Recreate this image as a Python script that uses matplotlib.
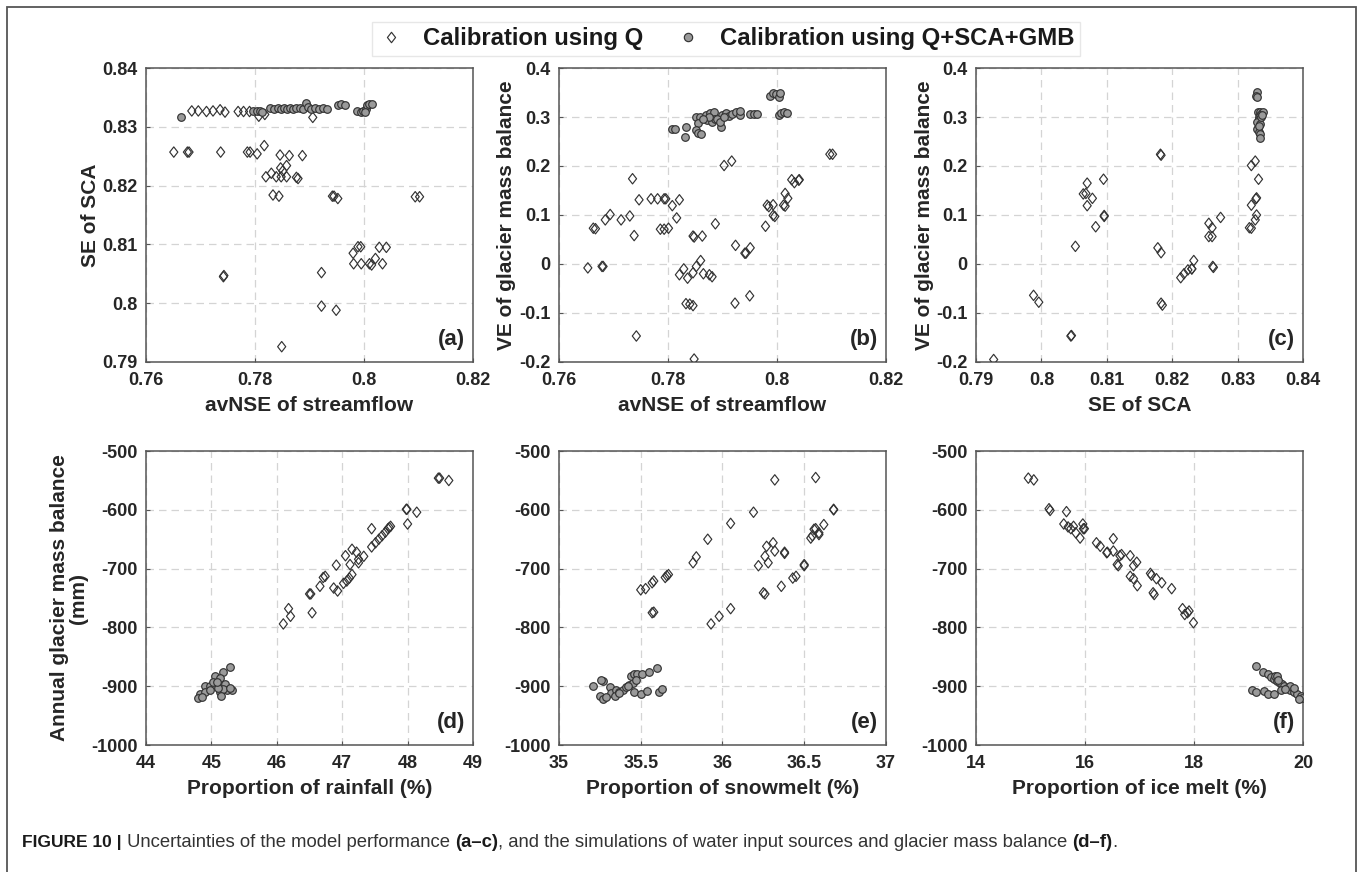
import matplotlib
matplotlib.use('Agg')
import matplotlib.pyplot as plt
from matplotlib.path import Path
from matplotlib.lines import Line2D
from matplotlib.patches import Rectangle

plt.rcParams['font.family'] = ['Liberation Sans', 'DejaVu Sans']

# ---- data ----
# (a) avNSE of streamflow vs SE of SCA
a_q_x = [0.7684, 0.7696, 0.7711, 0.7723, 0.7736, 0.7745, 0.7769, 0.7779, 0.7790, 0.7807, 0.7818, 0.7906,
         0.7651, 0.7676, 0.7679, 0.7737, 0.7786, 0.7791, 0.7804, 0.7817, 0.7846, 0.7863, 0.7887,
         0.7820, 0.7830, 0.7839, 0.7848, 0.7858, 0.7847, 0.7858, 0.7851, 0.7876, 0.7879, 0.7833, 0.7844,
         0.7942, 0.7945, 0.7952, 0.8094, 0.8102, 0.7742, 0.7743, 0.7980, 0.7989, 0.7994, 0.7981, 0.7995,
         0.8010, 0.8014, 0.8021, 0.8028, 0.8041, 0.8034, 0.7922, 0.7922, 0.7949, 0.7849]
a_q_y = [0.8327, 0.8327, 0.8326, 0.8327, 0.8329, 0.8325, 0.8326, 0.8326, 0.8326, 0.8318, 0.8321, 0.8316,
         0.8257, 0.8257, 0.8257, 0.8257, 0.8257, 0.8257, 0.8254, 0.8268, 0.8252, 0.8251, 0.8251,
         0.8215, 0.8221, 0.8215, 0.8215, 0.8215, 0.8230, 0.8234, 0.8225, 0.8214, 0.8212, 0.8184, 0.8182,
         0.8182, 0.8182, 0.8178, 0.8181, 0.8181, 0.8045, 0.8047, 0.8085, 0.8096, 0.8096, 0.8067, 0.8067,
         0.8067, 0.8065, 0.8076, 0.8095, 0.8095, 0.8067, 0.8052, 0.7995, 0.7988, 0.7926]
a_m_x = [0.7664, 0.7796, 0.7803, 0.7810, 0.7813, 0.7827, 0.7835, 0.7842, 0.7848, 0.7853, 0.7858, 0.7864,
         0.7870, 0.7876, 0.7882, 0.7888, 0.7894, 0.7897, 0.7903, 0.7910, 0.7917, 0.7924, 0.7932,
         0.7952, 0.7958, 0.7965, 0.7988, 0.7994, 0.7999, 0.8003, 0.8006, 0.8010, 0.8014, 0.8002]
a_m_y = [0.8316, 0.8327, 0.8327, 0.8327, 0.8326, 0.8332, 0.8331, 0.8332, 0.8331, 0.8332, 0.8331, 0.8332,
         0.8331, 0.8332, 0.8332, 0.8331, 0.8340, 0.8333, 0.8331, 0.8332, 0.8330, 0.8332, 0.8331,
         0.8337, 0.8338, 0.8337, 0.8327, 0.8326, 0.8327, 0.8330, 0.8337, 0.8339, 0.8338, 0.8325]

# (b) avNSE of streamflow vs VE of glacier mass balance
b_q_x = [0.7653, 0.7663, 0.7667, 0.7679, 0.7681, 0.7685, 0.7694, 0.7714, 0.7730, 0.7735, 0.7738, 0.7742,
         0.7747, 0.7769, 0.7781, 0.7793, 0.7796, 0.7808, 0.7821, 0.7816, 0.7786, 0.7793, 0.7801,
         0.7846, 0.7848, 0.7863, 0.7887, 0.7903, 0.7917, 0.7924, 0.7941, 0.7943, 0.7951, 0.7923, 0.7950,
         0.7848, 0.7833, 0.7840, 0.7846, 0.7821, 0.7829, 0.7836, 0.7846, 0.7852, 0.7860, 0.7865, 0.7876,
         0.7881, 0.7979, 0.7982, 0.7985, 0.7993, 0.7996, 0.7993, 0.8012, 0.8015, 0.8015, 0.8020, 0.8027,
         0.8032, 0.8040, 0.8041, 0.8097, 0.8102]
b_q_y = [-0.008, 0.073, 0.072, -0.005, -0.005, 0.090, 0.101, 0.090, 0.098, 0.174, 0.058, -0.147,
         0.131, 0.133, 0.133, 0.133, 0.133, 0.119, 0.131, 0.094, 0.071, 0.071, 0.073,
         0.057, 0.055, 0.057, 0.082, 0.201, 0.210, 0.038, 0.022, 0.022, 0.033, -0.080, -0.065,
         -0.194, -0.081, -0.082, -0.085, -0.022, -0.010, -0.029, -0.018, -0.005, 0.007, -0.020, -0.022,
         -0.026, 0.077, 0.120, 0.117, 0.099, 0.097, 0.121, 0.120, 0.118, 0.144, 0.134, 0.172,
         0.166, 0.171, 0.172, 0.224, 0.224]
b_m_x = [0.7808, 0.7813, 0.7833, 0.7831, 0.7851, 0.7858, 0.7855, 0.7851, 0.7856, 0.7860, 0.7869, 0.7878,
         0.7884, 0.7871, 0.7880, 0.7887, 0.7900, 0.7906, 0.7912, 0.7918, 0.7924, 0.7933, 0.7933, 0.7897,
         0.7890, 0.7951, 0.7957, 0.7963, 0.7988, 0.7993, 0.7998, 0.8003, 0.8006, 0.8003, 0.8008, 0.8013,
         0.8018, 0.7875, 0.7865, 0.7895, 0.7902]
b_m_y = [0.275, 0.275, 0.279, 0.259, 0.301, 0.301, 0.288, 0.274, 0.268, 0.266, 0.305, 0.308,
         0.311, 0.294, 0.289, 0.296, 0.305, 0.308, 0.303, 0.306, 0.311, 0.305, 0.312, 0.280,
         0.296, 0.307, 0.306, 0.306, 0.343, 0.350, 0.346, 0.340, 0.348, 0.305, 0.308, 0.310,
         0.308, 0.300, 0.295, 0.290, 0.300]

# (c) SE of SCA vs VE of glacier mass balance
c_q_x = [0.7927, 0.7988, 0.7996, 0.8045, 0.8046, 0.8052, 0.8064, 0.8068, 0.8070, 0.8070, 0.8078, 0.8083,
         0.8095, 0.8096, 0.8096, 0.8178, 0.8182, 0.8183, 0.8183, 0.8183, 0.8185, 0.8213, 0.8218, 0.8224,
         0.8230, 0.8233, 0.8230, 0.8256, 0.8256, 0.8261, 0.8261, 0.8262, 0.8263, 0.8274, 0.8318, 0.8321,
         0.8321, 0.8321, 0.8327, 0.8332, 0.8328, 0.8329, 0.8329, 0.8327]
c_q_y = [-0.195, -0.064, -0.078, -0.147, -0.146, 0.036, 0.143, 0.144, 0.165, 0.119, 0.134, 0.076,
         0.173, 0.097, 0.099, 0.033, 0.224, 0.222, 0.023, -0.080, -0.084, -0.028, -0.020, -0.012,
         -0.010, 0.007, -0.010, 0.083, 0.056, 0.056, 0.074, -0.005, -0.007, 0.095, 0.074, 0.073,
         0.120, 0.201, 0.210, 0.173, 0.133, 0.135, 0.100, 0.090]
c_m_x = [0.8329, 0.8328, 0.8330, 0.8331, 0.8334, 0.8337, 0.8339, 0.8335, 0.8332, 0.8333, 0.8330, 0.8334,
         0.8331, 0.8329, 0.8333, 0.8334, 0.8335, 0.8332, 0.8336, 0.8338]
c_m_y = [0.352, 0.343, 0.340, 0.310, 0.310, 0.308, 0.311, 0.305, 0.300, 0.296, 0.290, 0.285,
         0.278, 0.275, 0.270, 0.265, 0.258, 0.282, 0.300, 0.305]

# (d) proportion of rainfall vs annual glacier mass balance
d_q_x = [46.10, 46.18, 46.21, 46.50, 46.52, 46.54, 46.66, 46.71, 46.74, 46.87, 46.91, 46.93, 47.02, 47.07,
         47.11, 47.15, 47.05, 47.12, 47.15, 47.22, 47.25, 47.25, 47.33, 47.45, 47.45, 47.51, 47.56, 47.61,
         47.66, 47.70, 47.74, 47.72, 47.98, 47.99, 48.00, 48.14, 48.47, 48.49, 48.63]
d_q_y = [-794, -768, -781, -743, -743, -775, -730, -715, -713, -733, -694, -738, -725, -721,
         -716, -710, -678, -693, -667, -672, -684, -690, -679, -632, -663, -656, -650, -644,
         -638, -632, -628, -630, -599, -599, -624, -604, -546, -546, -550]
d_m_x = [45.28, 45.18, 45.06, 45.13, 44.90, 44.98, 45.05, 45.13, 45.21, 45.24, 45.31, 44.83, 44.80, 44.90,
         44.98, 45.13, 45.18, 45.15, 45.10, 45.03, 44.86, 45.08, 45.29]
d_m_y = [-867, -876, -883, -886, -900, -900, -898, -899, -896, -906, -906, -914, -920, -910,
         -907, -910, -905, -917, -903, -892, -918, -893, -903]

# (e) proportion of snowmelt vs annual glacier mass balance
e_q_x = [35.50, 35.53, 35.57, 35.58, 35.57, 35.58, 35.65, 35.66, 35.67, 35.82, 35.84, 35.91, 35.93, 35.98,
         36.05, 36.05, 36.19, 36.22, 36.25, 36.26, 36.26, 36.27, 36.28, 36.31, 36.32, 36.32, 36.36, 36.38,
         36.38, 36.43, 36.45, 36.50, 36.50, 36.54, 36.55, 36.56, 36.57, 36.59, 36.59, 36.62, 36.57, 36.68,
         36.68]
e_q_y = [-736, -734, -724, -721, -775, -774, -715, -712, -710, -690, -680, -650, -794, -781,
         -623, -768, -604, -695, -741, -743, -679, -662, -690, -656, -549, -670, -730, -672,
         -674, -716, -713, -695, -693, -648, -644, -633, -632, -639, -642, -625, -545, -599,
         -600]
e_m_x = [35.21, 35.27, 35.26, 35.25, 35.27, 35.31, 35.32, 35.29, 35.35, 35.34, 35.37, 35.39, 35.41, 35.43,
         35.45, 35.44, 35.46, 35.48, 35.51, 35.55, 35.60, 35.46, 35.50, 35.54, 35.61, 35.63, 35.37, 35.47,
         35.42]
e_m_y = [-900, -891, -889, -917, -921, -901, -912, -919, -907, -917, -910, -906, -902, -898,
         -895, -882, -879, -880, -880, -875, -869, -910, -914, -908, -909, -905, -912, -890,
         -900]

# (f) proportion of ice melt vs annual glacier mass balance
f_q_x = [14.96, 15.06, 15.34, 15.36, 15.66, 15.61, 15.69, 15.74, 15.79, 15.83, 15.91, 15.96, 15.97, 15.99,
         16.21, 16.28, 16.40, 16.41, 16.52, 16.52, 16.59, 16.61, 16.64, 16.67, 16.83, 16.83, 16.89, 16.89,
         16.95, 16.96, 17.20, 17.22, 17.25, 17.27, 17.31, 17.41, 17.59, 17.79, 17.83, 17.88, 17.91, 17.99]
f_q_y = [-546, -549, -598, -601, -603, -624, -629, -632, -628, -639, -648, -624, -632, -632,
         -656, -662, -673, -672, -649, -670, -693, -695, -678, -676, -678, -713, -695, -717,
         -689, -729, -708, -711, -741, -744, -717, -724, -734, -768, -778, -775, -772, -792]
f_m_x = [19.13, 19.27, 19.35, 19.42, 19.47, 19.52, 19.57, 19.62, 19.49, 19.53, 19.65, 19.71, 19.77, 19.83,
         19.89, 19.96, 19.77, 19.83, 19.07, 19.13, 19.29, 19.35, 19.47, 19.60, 19.99, 19.93, 19.55, 19.67]
f_m_y = [-866, -876, -879, -884, -888, -891, -894, -896, -883, -883, -900, -903, -907, -910,
         -913, -916, -900, -903, -906, -909, -908, -913, -913, -906, -920, -922, -890, -905]

panels = [
    ('(a)', a_q_x, a_q_y, a_m_x, a_m_y, 'avNSE of streamflow', 'SE of SCA',
     (0.76, 0.82), [0.76, 0.78, 0.8, 0.82], (0.79, 0.84), [0.79, 0.8, 0.81, 0.82, 0.83, 0.84]),
    ('(b)', b_q_x, b_q_y, b_m_x, b_m_y, 'avNSE of streamflow', 'VE of glacier mass balance',
     (0.76, 0.82), [0.76, 0.78, 0.8, 0.82], (-0.2, 0.4), [-0.2, -0.1, 0, 0.1, 0.2, 0.3, 0.4]),
    ('(c)', c_q_x, c_q_y, c_m_x, c_m_y, 'SE of SCA', 'VE of glacier mass balance',
     (0.79, 0.84), [0.79, 0.8, 0.81, 0.82, 0.83, 0.84], (-0.2, 0.4), [-0.2, -0.1, 0, 0.1, 0.2, 0.3, 0.4]),
    ('(d)', d_q_x, d_q_y, d_m_x, d_m_y, 'Proportion of rainfall (%)', 'Annual glacier mass balance\n(mm)',
     (44, 49), [44, 45, 46, 47, 48, 49], (-1000, -500), [-1000, -900, -800, -700, -600, -500]),
    ('(e)', e_q_x, e_q_y, e_m_x, e_m_y, 'Proportion of snowmelt (%)', None,
     (35, 37), [35, 35.5, 36, 36.5, 37], (-1000, -500), [-1000, -900, -800, -700, -600, -500]),
    ('(f)', f_q_x, f_q_y, f_m_x, f_m_y, 'Proportion of ice melt (%)', None,
     (14, 20), [14, 16, 18, 20], (-1000, -500), [-1000, -900, -800, -700, -600, -500]),
]


def fmt(v):
    s = ('%.2f' % v).rstrip('0').rstrip('.')
    return '0' if s in ('-0', '') else s


# matlab style diamond, a bit taller than wide
diamond = Path([(0, 1), (0.78, 0), (0, -1), (-0.78, 0), (0, 1)],
               [Path.MOVETO, Path.LINETO, Path.LINETO, Path.LINETO, Path.CLOSEPOLY])

txt = '#262626'
edge = '#333333'
fill = '#9a9a9a'

fig = plt.figure(figsize=(13.58, 8.72), dpi=100)

lefts = [0.1075, 0.4116, 0.7187]
bottoms = [0.5849, 0.1456]
w, h = 0.2408, 0.3371

for i, (tag, qx, qy, mx, my, xl, yl, xlim, xt, ylim, yt) in enumerate(panels):
    ax = fig.add_axes([lefts[i % 3], bottoms[i // 3], w, h])
    ax.scatter(qx, qy, s=56, marker=diamond, facecolors='none', edgecolors=edge, linewidths=0.85, zorder=3)
    ax.scatter(mx, my, s=30, marker='o', facecolors=fill, edgecolors=edge, linewidths=0.85, zorder=4)
    ax.set_xlim(xlim)
    ax.set_ylim(ylim)
    ax.set_xticks(xt)
    ax.set_xticklabels([fmt(v) for v in xt])
    ax.set_yticks(yt)
    ax.set_yticklabels([fmt(v) for v in yt])
    ax.grid(True, color='#d4d4d4', linestyle=(0, (6, 4)), linewidth=0.9)
    ax.set_axisbelow(True)
    ax.tick_params(direction='in', length=3, width=0.8, color='#555555', labelsize=13,
                   labelcolor=txt)
    ax.tick_params(axis='x', pad=7)
    ax.tick_params(axis='y', pad=6)
    for lab in ax.get_xticklabels() + ax.get_yticklabels():
        lab.set_fontweight('bold')
    for sp in ax.spines.values():
        sp.set_color('#555555')
        sp.set_linewidth(1.1)
    ax.set_xlabel(xl, fontsize=15, fontweight='bold', color=txt, labelpad=5)
    if yl:
        ax.set_ylabel(yl, fontsize=15, fontweight='bold', color=txt, labelpad=2, linespacing=1.0)
    ax.text(0.975, 0.04, tag, transform=ax.transAxes, ha='right', va='bottom',
            fontsize=16, fontweight='bold', color=txt)

# legend on top
h1 = Line2D([], [], linestyle='none', marker=diamond, markersize=7.5, markerfacecolor='none',
            markeredgecolor=edge, markeredgewidth=0.85)
h2 = Line2D([], [], linestyle='none', marker='o', markersize=6, markerfacecolor=fill,
            markeredgecolor=edge, markeredgewidth=0.85)
leg = fig.legend([h1, h2], ['Calibration using Q', 'Calibration using Q+SCA+GMB'],
                 loc='center', bbox_to_anchor=(0.5346, 0.9553), ncol=2, frameon=True,
                 fancybox=False, handlelength=1.1, handletextpad=0.8, columnspacing=1.3,
                 borderpad=0.25, prop={'weight': 'bold', 'size': 17.2})
leg.get_frame().set_edgecolor('#e2e2e2')
leg.get_frame().set_linewidth(1.0)
for t in leg.get_texts():
    t.set_color('#1a1a1a')

# outer frame
fig.add_artist(Rectangle((7 / 1358, -0.05), (1356 - 7) / 1358, 1.05 - 7 / 872,
                         transform=fig.transFigure, fill=False, edgecolor='#555555',
                         linewidth=1.3, clip_on=False))

# caption, pieces placed one after another
pieces = [('FIGURE 10 |', 'bold', '#1a1a1a', 12.5),
          (' Uncertainties of the model performance ', 'normal', '#333333', 13.3),
          ('(a\u2013c)', 'bold', '#1a1a1a', 13.3),
          (', and the simulations of water input sources and glacier mass balance ', 'normal', '#333333', 13.3),
          ('(d\u2013f)', 'bold', '#1a1a1a', 13.3),
          ('.', 'normal', '#333333', 13.3)]
fig.canvas.draw()
renderer = fig.canvas.get_renderer()
xpos = 22 / 1358
for s, wt, col, fs in pieces:
    t = fig.text(xpos, 1 - 847 / 872, s, fontsize=fs, fontweight=wt, color=col, va='baseline', ha='left')
    bb = t.get_window_extent(renderer=renderer)
    xpos += bb.width / fig.bbox.width

fig.savefig('out.png', dpi=100)
plt.close(fig)
